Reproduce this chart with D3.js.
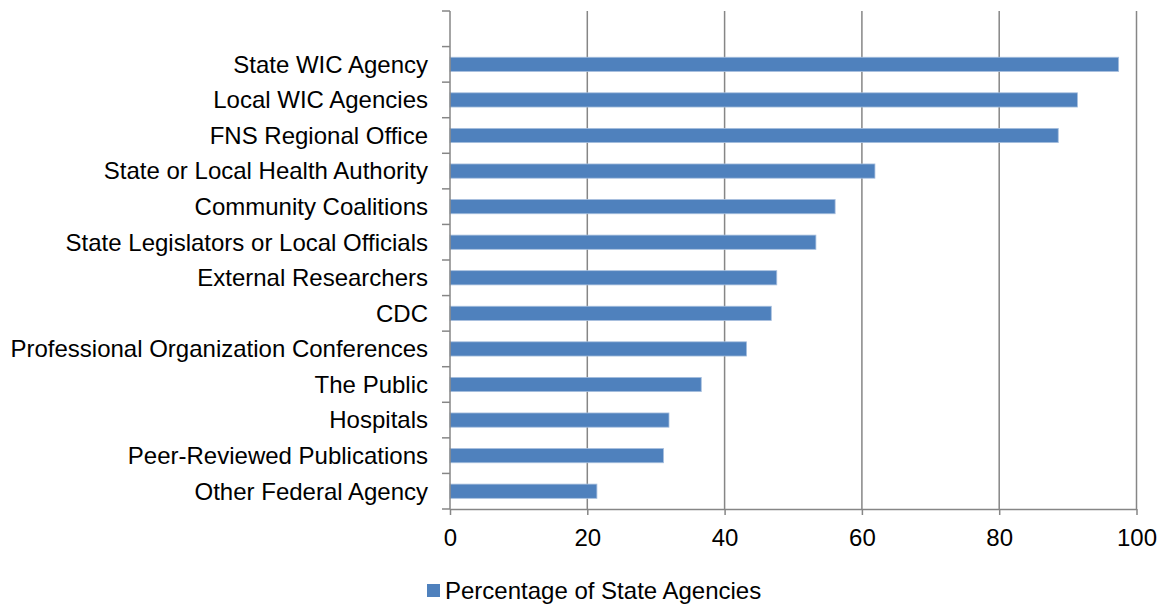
<!DOCTYPE html>
<html>
<head>
<meta charset="utf-8">
<script src="https://cdn.jsdelivr.net/npm/d3@7"></script>
<style>
    body { margin: 0; background: #fff; }
    text { font-family: "Liberation Sans", Arial, sans-serif; fill: #000; }
</style>
</head>
<body>
<div id="chart"></div>
<script>
// categories, top to bottom (top slot of the chart is left empty)
var categories = [
    "State WIC Agency",
    "Local WIC Agencies",
    "FNS Regional Office",
    "State or Local Health Authority",
    "Community Coalitions",
    "State Legislators or Local Officials",
    "External Researchers",
    "CDC",
    "Professional Organization Conferences",
    "The Public",
    "Hospitals",
    "Peer-Reviewed Publications",
    "Other Federal Agency"
];
var values = [97.4, 91.4, 88.6, 61.9, 56.1, 53.3, 47.6, 46.8, 43.2, 36.6, 31.9, 31.1, 21.4];
var xTicks = [0, 20, 40, 60, 80, 100];
var seriesName = "Percentage of State Agencies";

var data = categories.map(function (c, i) {
    return {cat: c, value: values[i]};
});

// set the dimensions and margins of the graph
var margin = {top: 11, right: 24.5, bottom: 96, left: 450},
    width = 1161 - margin.left - margin.right,
    height = 605 - margin.top - margin.bottom;

var x = d3.scaleLinear()
    .domain([0, 100])
    .range([0, width]);

// one empty slot above the first category
var slots = [" "].concat(categories);
var y = d3.scaleBand()
    .domain(slots)
    .range([0, height])
    .paddingInner(0.6)
    .paddingOuter(0.3);
var step = y.step();

var svg = d3.select("#chart").append("svg")
    .attr("width", 1161)
    .attr("height", 605);

var g = svg.append("g")
    .attr("transform", "translate(" + margin.left + "," + margin.top + ")");

// vertical gridlines
g.selectAll(".grid")
    .data(xTicks.slice(1))
    .enter().append("line")
    .attr("x1", function (d) { return x(d); })
    .attr("x2", function (d) { return x(d); })
    .attr("y1", 0)
    .attr("y2", height)
    .attr("stroke", "#868686")
    .attr("stroke-width", 1.5);

// bars
g.selectAll(".bar")
    .data(data)
    .enter().append("rect")
    .attr("class", "bar")
    .attr("x", 0)
    .attr("y", function (d) { return y(d.cat); })
    .attr("width", function (d) { return x(d.value); })
    .attr("height", y.bandwidth())
    .attr("fill", "#4F81BD")
    .attr("stroke", "#A7BFDE")
    .attr("stroke-width", 0.8);

// y axis: line, ticks between categories, labels
var yAxis = g.append("g");
yAxis.append("line")
    .attr("x1", 0).attr("x2", 0)
    .attr("y1", 0).attr("y2", height)
    .attr("stroke", "#868686")
    .attr("stroke-width", 1.5);
yAxis.selectAll(".ytick")
    .data(d3.range(slots.length + 1))
    .enter().append("line")
    .attr("x1", -8).attr("x2", 0)
    .attr("y1", function (i) { return i * step; })
    .attr("y2", function (i) { return i * step; })
    .attr("stroke", "#868686")
    .attr("stroke-width", 1.5);
yAxis.selectAll(".ylabel")
    .data(categories)
    .enter().append("text")
    .attr("x", -22)
    .attr("y", function (d) { return y(d) + y.bandwidth() / 2; })
    .attr("dy", "0.35em")
    .attr("text-anchor", "end")
    .style("font-size", "24px")
    .text(function (d) { return d; });

// x axis
var xAxis = g.append("g")
    .attr("transform", "translate(0," + height + ")")
    .call(d3.axisBottom(x).tickValues(xTicks).tickSize(6).tickSizeOuter(0).tickPadding(14));
xAxis.select(".domain").attr("stroke", "#868686").attr("stroke-width", 1.5);
xAxis.selectAll(".tick line").attr("stroke", "#868686").attr("stroke-width", 1.5);
xAxis.selectAll(".tick text")
    .style("font-size", "24px")
    .style("font-family", "'Liberation Sans', Arial, sans-serif")
    .attr("fill", "#000");

// legend
var legend = svg.append("g")
    .attr("transform", "translate(427,584)");
legend.append("rect")
    .attr("width", 13)
    .attr("height", 13)
    .attr("fill", "#4F81BD");
legend.append("text")
    .attr("x", 18)
    .attr("y", 6.5)
    .attr("dy", "0.35em")
    .style("font-size", "24px")
    .text(seriesName);
</script>
</body>
</html>
